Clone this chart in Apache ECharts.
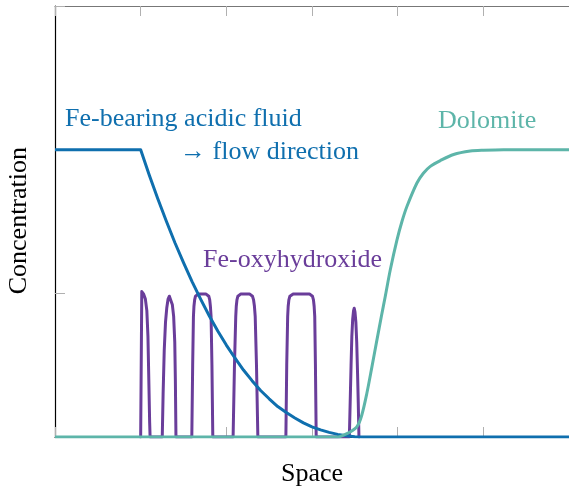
<!DOCTYPE html>
<html>
<head>
<meta charset="utf-8">
<script src="https://cdn.jsdelivr.net/npm/echarts@6/dist/echarts.min.js"></script>
<style>html,body{margin:0;padding:0;background:#fff}#c{width:569px;height:490px}</style>
</head>
<body>
<div id="c"></div>
<script>
// ---- data (space x, concentration y) ----
const xTicks = [0, 1, 2, 3, 4, 5, 6];
const yTicks = [0, 0.5, 1, 1.5];

const fluidX = [0, 1.0, 1.1, 1.2, 1.3, 1.4, 1.5, 1.6, 1.7, 1.8, 1.9, 2.0, 2.1, 2.2, 2.3, 2.4, 2.5, 2.6, 2.7, 2.8, 2.9, 3.0, 3.1, 3.2, 3.3, 3.4, 3.5, 3.6, 6.0];
const fluidY = [1, 1, 0.912, 0.829, 0.751, 0.676, 0.607, 0.541, 0.480, 0.422, 0.369, 0.320, 0.275, 0.233, 0.196, 0.162, 0.133, 0.106, 0.085, 0.066, 0.049, 0.035, 0.025, 0.016, 0.009, 0.004, 0.001, 0, 0];

const dolomiteX = [0, 3.0, 3.30, 3.37, 3.45, 3.525, 3.58, 3.641, 3.70, 3.758, 3.81, 3.855, 3.914, 3.992, 4.05, 4.109, 4.225, 4.30, 4.381, 4.498, 4.653, 4.848, 5.0, 5.237, 5.6, 6.0];
const dolomiteY = [0, 0, 0, 0.007, 0.018, 0.036, 0.075, 0.153, 0.245, 0.338, 0.420, 0.489, 0.582, 0.686, 0.750, 0.803, 0.884, 0.918, 0.942, 0.962, 0.983, 0.995, 0.998, 1.0, 1.0, 1.0];

const oxyX = [1.0, 1.005, 1.013, 1.035, 1.055, 1.072, 1.085, 1.095, 1.105, 1.11,
  1.252, 1.262, 1.275, 1.29, 1.305, 1.32, 1.335, 1.35, 1.37, 1.385, 1.398, 1.405, 1.412,
  1.597, 1.607, 1.616, 1.622, 1.63, 1.64, 1.655, 1.675, 1.76, 1.78, 1.795, 1.806, 1.814, 1.822, 1.832, 1.842,
  2.079, 2.095, 2.11, 2.116, 2.124, 2.135, 2.15, 2.17, 2.27, 2.29, 2.305, 2.318, 2.328, 2.337, 2.352, 2.368,
  2.695, 2.705, 2.716, 2.722, 2.73, 2.742, 2.758, 2.78, 2.97, 2.99, 3.005, 3.017, 3.025, 3.032, 3.04, 3.049,
  3.436, 3.448, 3.456, 3.465, 3.475, 3.485, 3.493, 3.502, 3.512, 3.522, 3.532, 3.54, 3.548];
const oxyY = [0, 0, 0.506, 0.497, 0.48, 0.44, 0.35, 0.2, 0.05, 0,
  0, 0.15, 0.30, 0.40, 0.45, 0.48, 0.49, 0.485, 0.46, 0.42, 0.33, 0.2, 0,
  0, 0.25, 0.42, 0.455, 0.477, 0.49, 0.496, 0.498, 0.498, 0.496, 0.49, 0.477, 0.455, 0.42, 0.25, 0,
  0, 0.25, 0.42, 0.455, 0.477, 0.49, 0.496, 0.498, 0.498, 0.496, 0.49, 0.477, 0.455, 0.42, 0.25, 0,
  0, 0.25, 0.42, 0.455, 0.477, 0.49, 0.496, 0.498, 0.498, 0.496, 0.49, 0.477, 0.455, 0.42, 0.25, 0,
  0, 0.15, 0.25, 0.35, 0.41, 0.44, 0.448, 0.435, 0.40, 0.33, 0.22, 0.12, 0];

const labels = {
  fluid: 'Fe-bearing acidic fluid',
  flow: '\u2192 flow direction',
  dolomite: 'Dolomite',
  oxy: 'Fe-oxyhydroxide',
  xName: 'Space',
  yName: 'Concentration'
};

const BLUE = '#0f6fae', TEAL = '#5db5a9', PURPLE = '#6a3d9a';
const FONT = '"Liberation Serif", "DejaVu Serif", serif';
const zip = (xs, ys) => xs.map((x, i) => [x, ys[i]]);

const chart = echarts.init(document.getElementById('c'), null, {renderer: 'canvas'});
const tickStyle = {show: true, inside: true, length: 10, lineStyle: {color: '#b0b0b0', width: 1}};
chart.setOption({
  animation: false,
  grid: {left: 55, right: 0, top: 6, bottom: 53},
  xAxis: [
    {type: 'value', min: xTicks[0], max: xTicks[xTicks.length - 1], interval: 1, position: 'bottom',
     axisLine: {show: true, lineStyle: {color: '#000', width: 1}}, axisTick: tickStyle,
     axisLabel: {show: false}, splitLine: {show: false}},
    {type: 'value', min: xTicks[0], max: xTicks[xTicks.length - 1], interval: 1, position: 'top',
     axisLine: {show: true, lineStyle: {color: '#777', width: 1}}, axisTick: tickStyle,
     axisLabel: {show: false}, splitLine: {show: false}}
  ],
  yAxis: {type: 'value', min: yTicks[0], max: yTicks[yTicks.length - 1], interval: 0.5,
    axisLine: {show: true, lineStyle: {color: '#000', width: 1.2}}, axisTick: tickStyle,
    axisLabel: {show: false}, splitLine: {show: false}},
  series: [
    {type: 'line', data: zip(oxyX, oxyY), showSymbol: false, smooth: false,
     lineStyle: {color: PURPLE, width: 3, join: 'round', cap: 'round'}, z: 2},
    {type: 'line', data: zip(fluidX, fluidY), showSymbol: false, smooth: false,
     lineStyle: {color: BLUE, width: 3, join: 'round'}, z: 3},
    {type: 'line', data: zip(dolomiteX, dolomiteY), showSymbol: false, smooth: 0.3,
     lineStyle: {color: TEAL, width: 3, join: 'round'}, z: 4}
  ],
  graphic: [
    {type: 'text', left: 65, top: 106, style: {text: labels.fluid, fill: BLUE, font: '26px ' + FONT}},
    {type: 'text', left: 180, top: 139, style: {text: labels.flow, fill: BLUE, font: '26px ' + FONT}},
    {type: 'text', left: 438, top: 108, style: {text: labels.dolomite, fill: TEAL, font: '26px ' + FONT}},
    {type: 'text', left: 203, top: 247, style: {text: labels.oxy, fill: PURPLE, font: '26px ' + FONT}},
    {type: 'text', left: 281, top: 461, style: {text: labels.xName, fill: '#000', font: '26px ' + FONT}},
    {type: 'text', left: 6, top: 147, rotation: Math.PI / 2,
     style: {text: labels.yName, fill: '#000', font: '26px ' + FONT}}
  ]
});
</script>
</body>
</html>
